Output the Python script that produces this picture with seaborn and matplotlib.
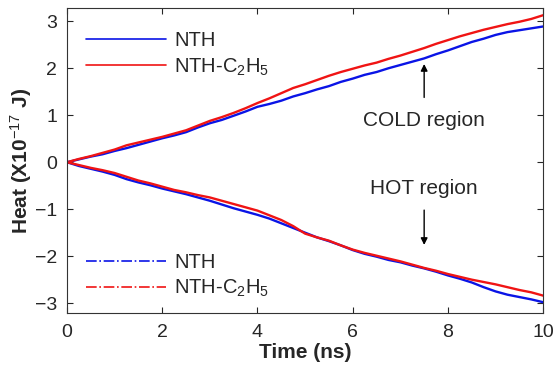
import matplotlib
matplotlib.use("Agg")
import matplotlib.pyplot as plt
from matplotlib.lines import Line2D
import pandas as pd
import seaborn as sns

# time axis (ns)
time_ns = [i * 0.25 for i in range(41)]

# COLD region heat (x1e-17 J)
cold_nth = [0.00, 0.06, 0.12, 0.17, 0.24, 0.30, 0.37, 0.44, 0.51, 0.57,
            0.64, 0.74, 0.83, 0.90, 0.99, 1.08, 1.18, 1.24, 1.31, 1.40,
            1.47, 1.55, 1.62, 1.71, 1.78, 1.86, 1.92, 2.00, 2.07, 2.14,
            2.21, 2.30, 2.38, 2.47, 2.56, 2.63, 2.71, 2.77, 2.81, 2.85, 2.89]
cold_c2h5 = [0.00, 0.07, 0.13, 0.20, 0.27, 0.36, 0.42, 0.48, 0.54, 0.61,
             0.68, 0.78, 0.88, 0.96, 1.05, 1.15, 1.26, 1.36, 1.47, 1.58,
             1.66, 1.75, 1.84, 1.92, 1.99, 2.06, 2.12, 2.20, 2.27, 2.35,
             2.43, 2.52, 2.60, 2.68, 2.75, 2.82, 2.88, 2.94, 2.99, 3.05, 3.13]

# HOT region heat (x1e-17 J)
hot_nth = [0.00, -0.08, -0.14, -0.20, -0.27, -0.36, -0.43, -0.49, -0.56, -0.62,
           -0.68, -0.75, -0.82, -0.90, -0.98, -1.05, -1.12, -1.20, -1.30, -1.40,
           -1.50, -1.60, -1.68, -1.77, -1.87, -1.95, -2.01, -2.08, -2.13, -2.20,
           -2.26, -2.33, -2.41, -2.48, -2.56, -2.66, -2.75, -2.82, -2.87, -2.92, -2.98]
hot_c2h5 = [0.00, -0.06, -0.12, -0.17, -0.23, -0.31, -0.39, -0.45, -0.52, -0.59,
            -0.64, -0.70, -0.75, -0.82, -0.89, -0.96, -1.03, -1.13, -1.23, -1.36,
            -1.52, -1.60, -1.67, -1.77, -1.86, -1.93, -1.99, -2.05, -2.11, -2.18,
            -2.25, -2.31, -2.38, -2.44, -2.50, -2.55, -2.60, -2.66, -2.72, -2.77, -2.84]

labels = ["NTH", "NTH-C$_2$H$_5$"]

sns.set_style("ticks")
plt.rcParams['font.family'] = ['Liberation Sans', 'DejaVu Sans']
plt.rcParams['mathtext.fontset'] = 'custom'
plt.rcParams['mathtext.rm'] = 'Liberation Sans'
plt.rcParams['mathtext.it'] = 'Liberation Sans'
plt.rcParams['mathtext.bf'] = 'Liberation Sans:bold'

BLUE = "#0a14e6"
RED = "#f01414"

fig, ax = plt.subplots(figsize=(5.56, 3.70), dpi=100)
fig.subplots_adjust(left=0.1205, right=0.977, bottom=0.154, top=0.978)

df = pd.DataFrame({"t": time_ns, "cold_nth": cold_nth, "cold_c2h5": cold_c2h5,
                   "hot_nth": hot_nth, "hot_c2h5": hot_c2h5})

sns.lineplot(data=df, x="t", y="cold_nth", color=BLUE, lw=1.7, ax=ax)
sns.lineplot(data=df, x="t", y="cold_c2h5", color=RED, lw=1.7, ax=ax)
sns.lineplot(data=df, x="t", y="hot_nth", color=BLUE, lw=1.7, ax=ax)
sns.lineplot(data=df, x="t", y="hot_c2h5", color=RED, lw=1.7, ax=ax)

ax.set_xlim(0, 10)
ax.set_ylim(-3.21, 3.28)
ax.set_xticks(range(0, 11, 2))
ax.set_yticks(range(-3, 4))
ax.tick_params(direction="in", top=True, right=True, labelsize=14, length=4)
ax.tick_params(axis="x", pad=8)
ax.tick_params(axis="y", pad=7)
for s in ax.spines.values():
    s.set_linewidth(0.8)
    s.set_color("#333333")

ax.set_xlabel("Time (ns)", fontsize=15, fontweight="bold", labelpad=1)
ax.set_ylabel("Heat (X10$^{-17}$ J)", fontsize=15, fontweight="bold", labelpad=1)

# legends
solid = [Line2D([], [], color=BLUE, lw=1.2), Line2D([], [], color=RED, lw=1.2)]
dashdot = [Line2D([], [], color=BLUE, lw=1.2, ls="-."),
           Line2D([], [], color=RED, lw=1.2, ls="-.")]
leg_kw = dict(frameon=False, fontsize=14.5, handlelength=4.0, handletextpad=0.4,
              labelspacing=0.3, borderaxespad=0.3)
leg1 = ax.legend(solid, labels, loc="upper left", bbox_to_anchor=(0.01, 0.97), **leg_kw)
ax.add_artist(leg1)
ax.legend(dashdot, labels, loc="lower left", bbox_to_anchor=(0.01, 0.0), **leg_kw)

# annotations
ax.annotate("", xy=(7.5, 2.15), xytext=(7.5, 1.32),
            arrowprops=dict(arrowstyle="-|>", color="black", lw=1, mutation_scale=10))
ax.text(7.5, 0.89, "COLD region", ha="center", va="center", fontsize=15)
ax.annotate("", xy=(7.5, -1.82), xytext=(7.5, -0.96),
            arrowprops=dict(arrowstyle="-|>", color="black", lw=1, mutation_scale=10))
ax.text(7.5, -0.55, "HOT region", ha="center", va="center", fontsize=15)

fig.savefig("out.png", dpi=100)
